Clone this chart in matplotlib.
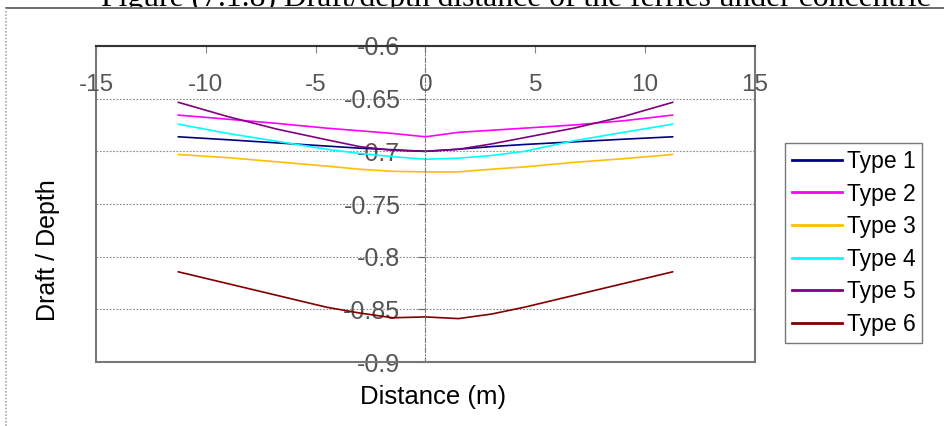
import matplotlib
matplotlib.use("Agg")
import matplotlib.pyplot as plt
from matplotlib.lines import Line2D
from matplotlib.patches import Rectangle
import matplotlib.transforms as mtransforms

# distance along the ferry (m)
distance = [-11.25, -9, -6.75, -4.5, -3, -1.5, 0, 1.5, 3, 4.5, 6.75, 9, 11.25]

# draft / depth for each ferry type
type1 = [-0.6862, -0.689, -0.692, -0.695, -0.697, -0.6985, -0.700, -0.698, -0.6955, -0.6935, -0.691, -0.6885, -0.6862]
type2 = [-0.6656, -0.6695, -0.6735, -0.678, -0.6805, -0.683, -0.6862, -0.682, -0.680, -0.678, -0.675, -0.671, -0.6656]
type3 = [-0.703, -0.706, -0.710, -0.714, -0.717, -0.719, -0.7195, -0.7195, -0.717, -0.7148, -0.7105, -0.707, -0.703]
type4 = [-0.6742, -0.683, -0.6905, -0.698, -0.702, -0.705, -0.7075, -0.7065, -0.704, -0.700, -0.690, -0.682, -0.6742]
type5 = [-0.6535, -0.667, -0.679, -0.689, -0.6955, -0.699, -0.700, -0.698, -0.693, -0.687, -0.678, -0.667, -0.6535]
type6 = [-0.8144, -0.8256, -0.8368, -0.848, -0.8535, -0.858, -0.8572, -0.8588, -0.8545, -0.848, -0.8368, -0.8256, -0.8144]

labels = ["Type 1", "Type 2", "Type 3", "Type 4", "Type 5", "Type 6"]
colors = ["#000080", "#FF00FF", "#FFBF00", "#00FFFF", "#800080", "#800000"]

x_ticks = [-15, -10, -5, 0, 5, 10, 15]
y_ticks = [-0.6, -0.65, -0.7, -0.75, -0.8, -0.85, -0.9]
y_tick_labels = ["-0.6", "-0.65", "-0.7", "-0.75", "-0.8", "-0.85", "-0.9"]

W, H = 945, 426
fig = plt.figure(figsize=(W / 100, H / 100), dpi=100)
plt.rcParams['font.family'] = ['Liberation Sans', 'DejaVu Sans']

ax = fig.add_axes([96 / W, 1 - 362 / H, (755 - 96) / W, (362 - 46) / H])

series = [type1, type2, type3, type4, type5, type6]
for vals, lab, col in zip(series, labels, colors):
    ax.plot(distance, vals, color=col, lw=1.2, label=lab)

ax.set_xlim(-15, 15)
ax.set_ylim(-0.9, -0.6)

# y axis crosses at x = 0, drawn dash-dot
for s in ['right', 'bottom', 'top']:
    ax.spines[s].set_visible(False)
ax.spines['left'].set_position(('data', 0))
ax.spines['left'].set_linestyle((0, (4, 2, 1, 2)))
ax.spines['left'].set_color('#777777')
ax.spines['left'].set_linewidth(0.8)

# plot area border
ax.add_patch(Rectangle((0, 0), 1, 1, transform=ax.transAxes, fill=False,
                       edgecolor='#777777', lw=1.5, zorder=3, clip_on=False))
ax.plot([0, 1], [1, 1], transform=ax.transAxes, color='#333333', lw=1.5, clip_on=False, zorder=4)

# horizontal gridlines
for v in y_ticks[1:-1]:
    ax.axhline(v, color='#888888', lw=0.8, ls=(0, (1.5, 1.5)), zorder=0)

ax.set_yticks(y_ticks)
ax.set_yticklabels(y_tick_labels)
ax.tick_params(axis='y', direction='out', length=5, color='#666666', pad=13,
               labelsize=18, labelcolor='#555555')

# x ticks on the top axis, labels drawn a bit below it
ax.set_xticks(x_ticks)
ax.tick_params(axis='x', direction='in', top=True, bottom=False, labeltop=False,
               labelbottom=False, length=5, color='#888888')
trans = mtransforms.blended_transform_factory(ax.transData, ax.transAxes)
for t in x_ticks:
    ax.text(t, 0.877, str(t), transform=trans, ha='center', va='center',
            fontsize=17.5, color='#555555', zorder=5)

fig.text(433 / W, 1 - 397 / H, "Distance (m)", ha='center', va='center', fontsize=18.5)
fig.text(48 / W, 1 - 250 / H, "Draft / Depth", ha='center', va='center', fontsize=18,
         rotation=90)

leg = ax.legend(loc='upper left', bbox_to_anchor=(785 / W, 1 - 143 / H),
                bbox_transform=fig.transFigure, borderaxespad=0, fontsize=16.5,
                handlelength=2.2, handletextpad=0.2, labelspacing=0.42,
                borderpad=0.3, fancybox=False, framealpha=1, edgecolor='#777777')
leg.get_frame().set_linewidth(1.0)
for line in leg.get_lines():
    line.set_linewidth(2.0)

# outer chart-area frame and document caption (cut off at the top)
fig.add_artist(Line2D([6 / W, 1], [1 - 7.5 / H, 1 - 7.5 / H], color='#555555', lw=1.2))
fig.add_artist(Line2D([6 / W, 6 / W], [0, 1 - 7.5 / H], color='#AAAAAA', lw=1.2,
                      ls=(0, (1, 1))))
cap = fig.text(101 / W, 1 - 6 / H,
               "Figure (7.1.8) Draft/depth distance of the ferries under concentric",
               ha='left', va='baseline', fontsize=22.8,
               family=['Liberation Serif', 'DejaVu Serif'])
clip = Rectangle((0, 1 - 7 / H), 1, 7 / H, transform=fig.transFigure, visible=False)
fig.add_artist(clip)
cap.set_clip_path(clip)

fig.savefig("out.png", dpi=100)
